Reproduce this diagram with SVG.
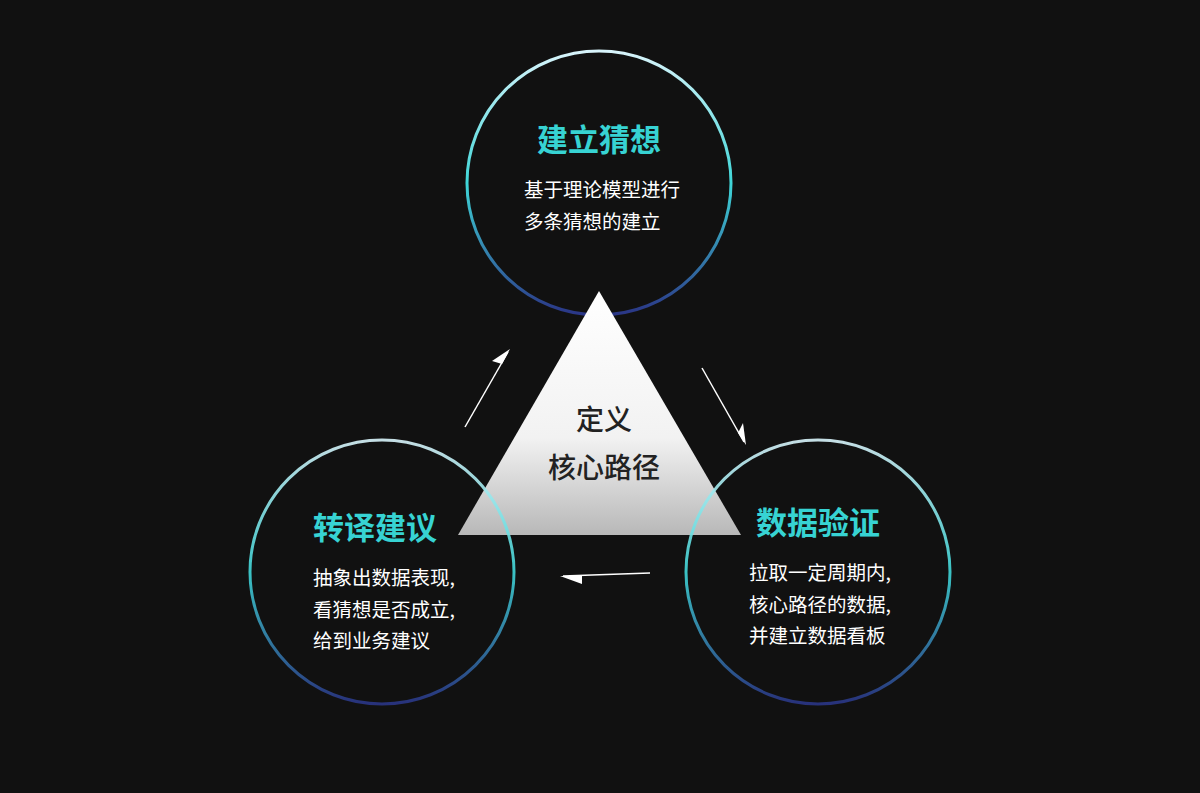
<svg xmlns="http://www.w3.org/2000/svg" width="1200" height="793" viewBox="0 0 1200 793">
<defs>
<linearGradient id="ring" x1="0" y1="0" x2="0" y2="1">
<stop offset="0" stop-color="#d8f4fb"/>
<stop offset="0.5" stop-color="#3fd6d8"/>
<stop offset="1" stop-color="#2a3586"/>
</linearGradient>
<linearGradient id="tri" x1="0" y1="0" x2="0" y2="1">
<stop offset="0" stop-color="#ffffff"/>
<stop offset="0.6" stop-color="#f2f2f2"/>
<stop offset="1" stop-color="#b8b8b8"/>
</linearGradient>
<style>
.ring{fill:none;stroke:url(#ring);stroke-width:3}
.t{font-family:"Noto Sans CJK SC",sans-serif;font-weight:700;font-size:31px;fill:#37d3d3}
.b{font-family:"Noto Sans CJK SC",sans-serif;font-size:19.5px;fill:#ffffff}
.c{font-family:"Noto Sans CJK SC",sans-serif;font-size:28px;fill:#222;font-weight:500}
.ar{stroke:#fff;stroke-width:1.5;fill:none}
</style>
</defs>
<rect width="1200" height="793" fill="#111111"/>
<g id="node-top">
<circle class="ring" cx="599" cy="183" r="132"/>
<text class="t" x="599" y="151" text-anchor="middle">建立猜想</text>
<text class="b" x="524" y="197">基于理论模型进行</text>
<text class="b" x="524" y="229">多条猜想的建立</text>
</g>
<g id="node-center">
<polygon points="599,291 741,535 458,535" fill="url(#tri)"/>
<text class="c" x="604" y="430" text-anchor="middle">定义</text>
<text class="c" x="604" y="478" text-anchor="middle">核心路径</text>
</g>
<g id="node-left">
<circle class="ring" cx="382" cy="572" r="132" stroke-opacity="0.9"/>
<text class="t" x="313" y="539">转译建议</text>
<text class="b" x="313" y="585">抽象出数据表现,</text>
<text class="b" x="313" y="617">看猜想是否成立,</text>
<text class="b" x="313" y="648">给到业务建议</text>
</g>
<g id="node-right">
<circle class="ring" cx="818" cy="572" r="132" stroke-opacity="0.9"/>
<text class="t" x="756" y="534">数据验证</text>
<text class="b" x="749" y="580">拉取一定周期内,</text>
<text class="b" x="749" y="612">核心路径的数据,</text>
<text class="b" x="749" y="643">并建立数据看板</text>
</g>
<g id="connectors">
<line class="ar" x1="465" y1="427" x2="508" y2="352"/>
<polygon points="510,349 492,361 502,364" fill="#fff"/>
<line class="ar" x1="702" y1="368" x2="744" y2="442"/>
<polygon points="746,445 743,423 738,433" fill="#fff"/>
<line class="ar" x1="650" y1="573" x2="563" y2="576"/>
<polygon points="560,576 582,584 582,576" fill="#fff"/>
</g>
</svg>
